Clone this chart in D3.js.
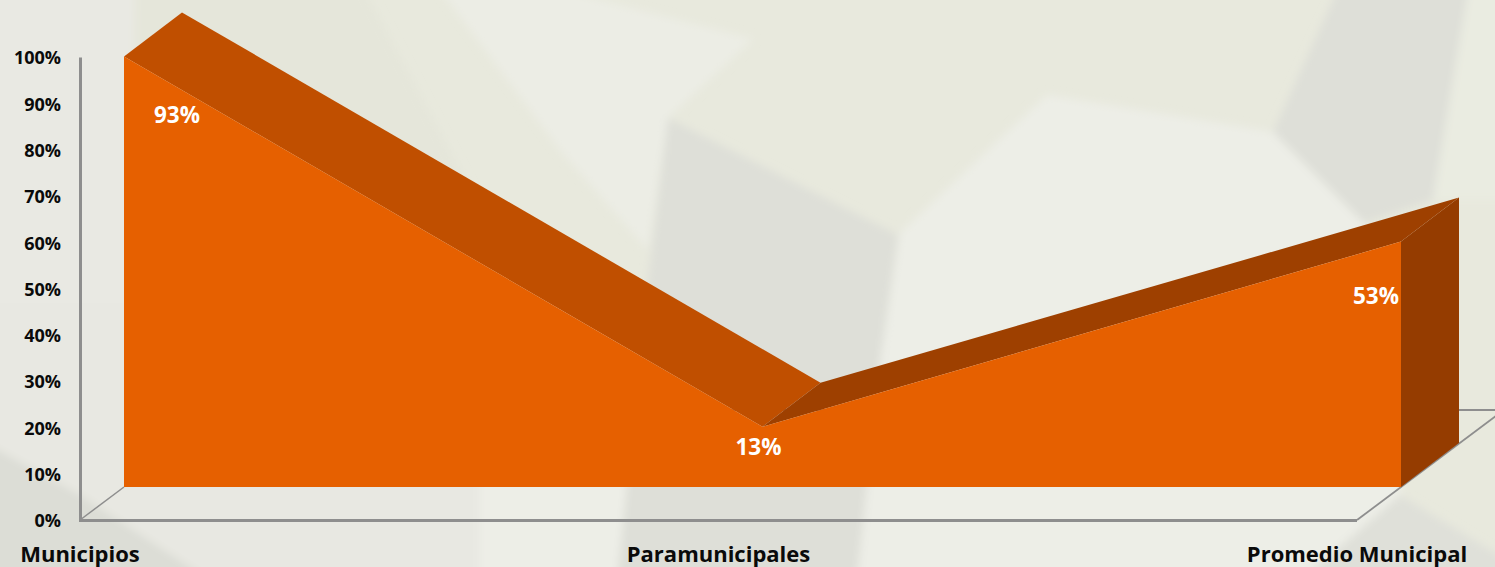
<!DOCTYPE html>
<html>
<head>
<meta charset="utf-8">
<script src="https://cdn.jsdelivr.net/npm/d3@7"></script>
<style>
  html, body { margin: 0; padding: 0; background: #e8e9dd; }
  svg { display: block; font-family: "Open Sans", sans-serif; }
</style>
</head>
<body>
<svg width="1495" height="567"></svg>
<script>
const svg = d3.select("svg");

// Datos
const categories = ["Municipios", "Paramunicipales", "Promedio Municipal"];
const values = [93, 13, 53];
const yTicks = [0, 10, 20, 30, 40, 50, 60, 70, 80, 90, 100];

// Fondo: facetas decorativas
const bgFacets = [
  { fill: "#e9e9e3", pts: [[-20, -20], [150, -20], [130, 320], [-20, 320]] },
  { fill: "#e5e6da", pts: [[135, -20], [360, -20], [540, 320], [130, 320]] },
  { fill: "#e8e8e2", pts: [[-20, 300], [500, 300], [500, 590], [-20, 590]] },
  { fill: "#edeee7", pts: [[480, 300], [630, 300], [630, 590], [480, 590]] },
  { fill: "#ecede5", pts: [[433, -20], [560, -10], [753, 39], [668, 118], [648, 250], [560, 150]] },
  { fill: "#dedfd8", pts: [[668, 118], [898, 235], [880, 363], [856, 590], [616, 590], [648, 280]] },
  { fill: "#edeee7", pts: [[1047, 95], [1273, 132], [1364, 223], [1420, 400], [1400, 495], [1290, 590], [856, 590], [880, 363], [900, 233]] },
  { fill: "#dedfd8", pts: [[1342, -20], [1470, -20], [1433, 200], [1364, 223], [1273, 132]] },
  { fill: "#eaece1", pts: [[1470, -20], [1515, -20], [1515, 200], [1433, 200]] },
  { fill: "#dcddd6", pts: [[-20, 440], [80, 495], [225, 590], [-20, 590]] },
  { fill: "#dfe0d9", pts: [[1400, 495], [1515, 565], [1515, 590], [1290, 590]] }
];

svg.append("g")
  .attr("filter", "url(#soft)")
  .selectAll("polygon")
  .data(bgFacets)
  .join("polygon")
  .attr("points", d => d.pts.join(" "))
  .attr("fill", d => d.fill);

svg.append("defs").append("filter").attr("id", "soft")
  .attr("x", "-5%").attr("y", "-5%").attr("width", "110%").attr("height", "110%")
  .append("feGaussianBlur").attr("stdDeviation", 4);

// Escalas sobre el plano del eje
const x = d3.scalePoint().domain(categories).range([80, 1357]);
const y = d3.scaleLinear().domain([0, 100]).range([520, 57]);

// Profundidad 3D
const front = { dx: 44, dy: -33 };
const depth = { dx: 58, dy: -44 };
const wall = { dx: 147, dy: -110 };

const axisColor = "#8e8e8e";
const points = categories.map((c, i) => ({ name: c, value: values[i] }));

// Piso y pared del fondo
const floor = svg.append("g").attr("stroke", axisColor).attr("fill", "none");
floor.append("line")
  .attr("x1", x.range()[0]).attr("y1", y(0))
  .attr("x2", x.range()[0] + front.dx).attr("y2", y(0) + front.dy)
  .attr("stroke-width", 1.5);
floor.append("line")
  .attr("x1", x.range()[1]).attr("y1", y(0))
  .attr("x2", x.range()[1] + wall.dx).attr("y2", y(0) + wall.dy)
  .attr("stroke-width", 1.8);
floor.append("line")
  .attr("x1", x.range()[0] + wall.dx).attr("y1", y(0) + wall.dy)
  .attr("x2", 1495).attr("y2", y(0) + wall.dy)
  .attr("stroke-width", 2);
floor.append("line")
  .attr("x1", x.range()[0] - 1).attr("y1", y(0) + 0.5)
  .attr("x2", x.range()[1]).attr("y2", y(0) + 0.5)
  .attr("stroke-width", 3);

// Eje Y
const yAxis = svg.append("g")
  .attr("transform", `translate(${x.range()[0]},0)`)
  .call(d3.axisLeft(y).tickValues(yTicks).tickSize(0).tickPadding(19).tickFormat(d => d + "%"));
yAxis.select(".domain").attr("stroke", axisColor).attr("stroke-width", 3);
yAxis.selectAll("text")
  .attr("dy", "0.38em")
  .attr("fill", "#0a0a0a")
  .style("font-family", "'Open Sans', sans-serif")
  .style("font-size", "18px")
  .style("font-weight", 700);

// Cara lateral derecha
const last = points[points.length - 1];
const fx = d => x(d.name) + front.dx;
const fy = v => y(v) + front.dy;

svg.append("polygon")
  .attr("fill", "#953c00")
  .attr("points", [
    [fx(last), fy(last.value)],
    [fx(last) + depth.dx, fy(last.value) + depth.dy],
    [fx(last) + depth.dx, fy(0) + depth.dy],
    [fx(last), fy(0)]
  ].join(" "));

// Caras superiores, una por tramo
const topColors = ["#c04f00", "#9e4000"];
svg.append("g")
  .selectAll("polygon")
  .data(d3.pairs(points))
  .join("polygon")
  .attr("fill", (d, i) => topColors[i])
  .attr("points", ([a, b]) => [
    [fx(a), fy(a.value)],
    [fx(a) + depth.dx, fy(a.value) + depth.dy],
    [fx(b) + depth.dx, fy(b.value) + depth.dy],
    [fx(b), fy(b.value)]
  ].join(" "));

// Area frontal
const area = d3.area()
  .x(d => fx(d))
  .y0(fy(0))
  .y1(d => fy(d.value));

svg.append("path")
  .datum(points)
  .attr("d", area)
  .attr("fill", "#e66000");

// Etiquetas de datos
const labelOffset = [[53, 59], [-4, 20], [-25, 55]];
svg.append("g")
  .selectAll("text")
  .data(points)
  .join("text")
  .attr("x", (d, i) => fx(d) + labelOffset[i][0])
  .attr("y", (d, i) => fy(d.value) + labelOffset[i][1])
  .attr("dy", "0.35em")
  .attr("text-anchor", "middle")
  .attr("fill", "#ffffff")
  .style("font-size", "22.5px")
  .style("font-weight", 700)
  .text(d => d.value + "%");

// Categorias
svg.append("g")
  .selectAll("text")
  .data(points)
  .join("text")
  .attr("x", d => x(d.name))
  .attr("y", 562)
  .attr("text-anchor", "middle")
  .attr("fill", "#0a0a0a")
  .style("font-size", "22px")
  .style("font-weight", 700)
  .text(d => d.name);
</script>
</body>
</html>
